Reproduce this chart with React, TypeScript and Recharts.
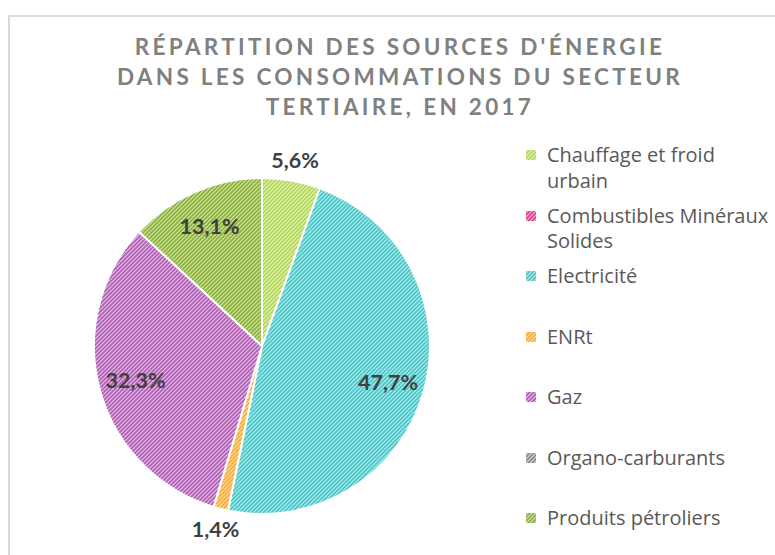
import { PieChart, Pie, Cell, Legend } from "recharts";

// données (en %)
const categories = [
  "Chauffage et froid urbain",
  "Combustibles Minéraux Solides",
  "Electricité",
  "ENRt",
  "Gaz",
  "Organo-carburants",
  "Produits pétroliers",
];
const shares = [5.6, 0, 47.7, 1.4, 32.3, 0, 13.1];
const titleLines = [
  "RÉPARTITION DES SOURCES D'ÉNERGIE",
  "DANS LES CONSOMMATIONS DU SECTEUR",
  "TERTIAIRE, EN 2017",
];

const stripe = ["#b3d65a", "#e6338c", "#4cc5c7", "#f5ad3c", "#ad5cb1", "#8c8c8c", "#8aaf3a"];
const back = ["#e3f1bd", "#f7b8d8", "#b8e9ea", "#fcdca4", "#e2c4e4", "#d4d4d4", "#d3e4aa"];

const data = categories.map((name, i) => ({ name, value: shares[i] }));

const FONT = "Lato, 'Open Sans', sans-serif";
const LEGEND_FONT = "'Open Sans', sans-serif";
const RADIAN = Math.PI / 180;

function Patterns() {
  return (
    <svg width={0} height={0} style={{ position: "absolute" }}>
      <defs>
        {stripe.map((c, i) => (
          <pattern key={i} id={`hatch-${i}`} width={4} height={4} patternUnits="userSpaceOnUse">
            <rect width={4} height={4} fill={back[i]} />
            <path d="M-1,1 L1,-1 M0,4 L4,0 M3,5 L5,3" stroke={c} strokeWidth={1.6} />
          </pattern>
        ))}
      </defs>
    </svg>
  );
}

const renderLabel = (props: any) => {
  const { cx, cy, midAngle, outerRadius, value } = props;
  if (!value) return null;
  const r = value < 6 ? outerRadius + 21 : outerRadius * 0.78;
  const x = cx + r * Math.cos(-midAngle * RADIAN);
  const y = cy + r * Math.sin(-midAngle * RADIAN);
  return (
    <text
      x={x}
      y={y}
      textAnchor="middle"
      dominantBaseline="central"
      fill="#404040"
      fontFamily={FONT}
      fontWeight={700}
      fontSize={21.5}
    >
      {value.toFixed(1).replace(".", ",")}%
    </text>
  );
};

const renderLegend = () => (
  <div style={{ fontFamily: LEGEND_FONT, fontSize: 20, color: "#595959", lineHeight: "25.5px" }}>
    {categories.map((name, i) => (
      <div key={name} style={{ position: "relative", height: 60.5, paddingLeft: 21, width: 228 }}>
        <svg width={10} height={10} style={{ position: "absolute", left: 0, top: 8 }}>
          <rect width={10} height={10} fill={`url(#hatch-${i})`} />
        </svg>
        {name}
      </div>
    ))}
  </div>
);

export default function App() {
  return (
    <div
      style={{
        position: "absolute",
        left: 0,
        top: 0,
        width: 775,
        height: 555,
        overflow: "hidden",
        background: "#fff",
      }}
    >
      <Patterns />
      <div
        style={{
          position: "absolute",
          left: 8,
          top: 15,
          width: 900,
          height: 700,
          borderTop: "2px solid #d9d9d9",
          borderLeft: "2px solid #d9d9d9",
        }}
      />
      <div
        style={{
          position: "absolute",
          left: 0,
          top: 32,
          width: 800,
          textAlign: "center",
          fontFamily: FONT,
          fontWeight: 700,
          fontSize: 22.5,
          letterSpacing: 3.3,
          lineHeight: "30px",
          color: "#808080",
        }}
      >
        {titleLines.map((t) => (
          <div key={t}>{t}</div>
        ))}
      </div>
      <div style={{ position: "absolute", left: 0, top: 0 }}>
        <PieChart width={775} height={555}>
          <Pie
            data={data}
            dataKey="value"
            nameKey="name"
            cx={257}
            cy={341}
            outerRadius={168}
            startAngle={90}
            endAngle={-270}
            stroke="#ffffff"
            strokeWidth={2}
            label={renderLabel}
            labelLine={false}
            isAnimationActive={false}
          >
            {data.map((d, i) => (
              <Cell key={d.name} fill={`url(#hatch-${i})`} />
            ))}
          </Pie>
          <Legend
            content={renderLegend}
            wrapperStyle={{ position: "absolute", left: 526, top: 142, width: 250 }}
          />
        </PieChart>
      </div>
    </div>
  );
}
